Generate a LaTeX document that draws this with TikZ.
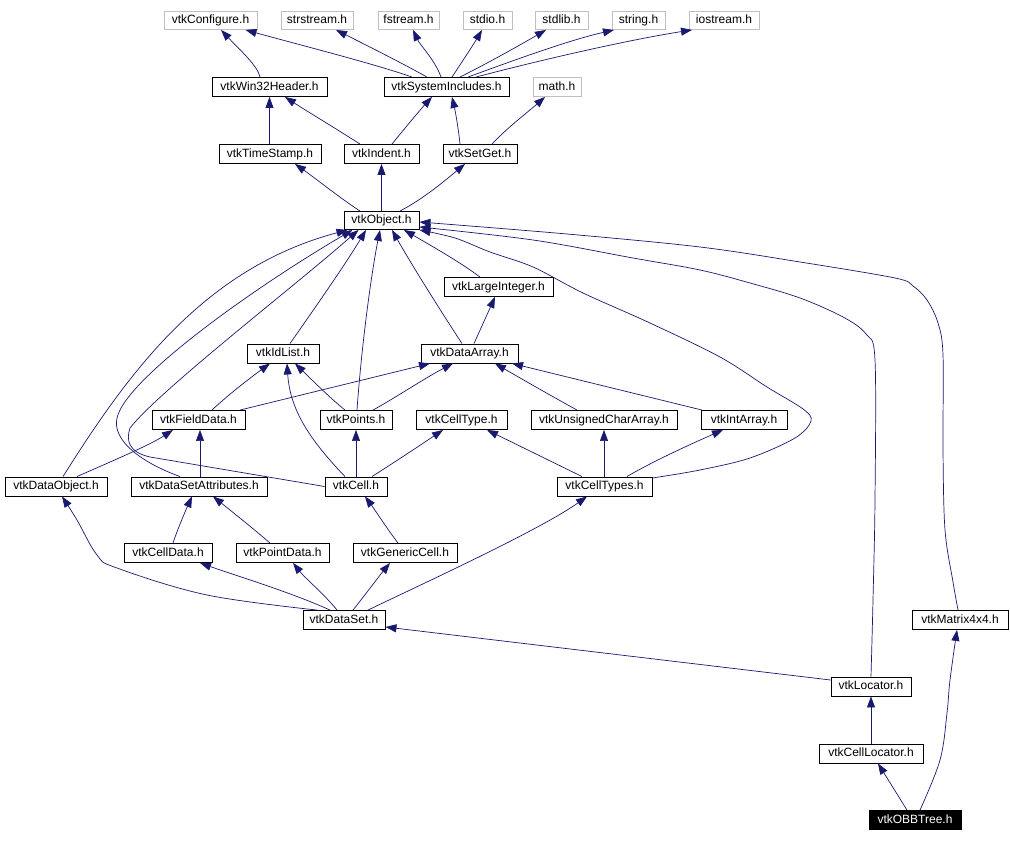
\documentclass[tikz,border=0pt]{standalone}
\usepackage{fontspec}
\setmainfont{Liberation Sans}
\usetikzlibrary{arrows.meta}
\definecolor{edgeblue}{RGB}{25,25,112}
\definecolor{sysgray}{RGB}{191,191,191}
\begin{document}
\begin{tikzpicture}[x=1pt,y=-1pt,
  hdr/.style={draw=black, line width=0.9pt, fill=white, inner sep=0pt, font=\fontsize{12}{14}\selectfont, text height=8.8pt, text depth=2.6pt, minimum height=19pt},
  sys/.style={hdr, draw=sysgray},
  cur/.style={hdr, fill=black, text=white},
  edge/.style={draw=edgeblue, line width=0.7pt, -{Triangle[length=11pt,width=8pt]}}]
\fill[white] (0,0) rectangle (1010,842);
\useasboundingbox (0,0) rectangle (1010,842);
% row 1
\node[sys, minimum width=93pt, minimum height=18pt] (configure) at (210.5,20.5) {vtkConfigure.h};
\node[sys, minimum width=72pt, minimum height=18pt] (strstream) at (317,20.5) {strstream.h};
\node[sys, minimum width=61pt, minimum height=18pt] (fstream) at (408.5,20.5) {fstream.h};
\node[sys, minimum width=49pt, minimum height=18pt] (stdio) at (487.5,20.5) {stdio.h};
\node[sys, minimum width=53pt, minimum height=18pt] (stdlib) at (561.5,20.5) {stdlib.h};
\node[sys, minimum width=53pt, minimum height=18pt] (string) at (638.5,20.5) {string.h};
\node[sys, minimum width=70pt, minimum height=18pt] (iostream) at (724,20.5) {iostream.h};
% row 2
\node[hdr, minimum width=115pt] (win32) at (269.5,87) {vtkWin32Header.h};
\node[hdr, minimum width=125pt] (sysinc) at (446.5,87) {vtkSystemIncludes.h};
\node[sys, minimum width=48pt] (math) at (557,87) {math.h};
% row 3
\node[hdr, minimum width=102pt] (timestamp) at (270,154) {vtkTimeStamp.h};
\node[hdr, minimum width=75pt] (indent) at (381.5,154) {vtkIndent.h};
\node[hdr, minimum width=74pt] (setget) at (480,154) {vtkSetGet.h};
% row 4
\node[hdr, minimum width=75pt, minimum height=18pt] (object) at (381.5,220.5) {vtkObject.h};
% row 5
\node[hdr, minimum width=109pt] (largeint) at (498.5,287) {vtkLargeInteger.h};
% row 6
\node[hdr, minimum width=72pt] (idlist) at (283,353.5) {vtkIdList.h};
\node[hdr, minimum width=97pt] (dataarray) at (469.5,353.5) {vtkDataArray.h};
% row 7
\node[hdr, minimum width=93pt] (fielddata) at (198.5,420) {vtkFieldData.h};
\node[hdr, minimum width=72pt] (points) at (356,420) {vtkPoints.h};
\node[hdr, minimum width=91pt] (celltype) at (461.5,420) {vtkCellType.h};
\node[hdr, minimum width=146pt] (uchar) at (604,420) {vtkUnsignedCharArray.h};
\node[hdr, minimum width=86pt] (intarray) at (744,420) {vtkIntArray.h};
% row 8
\node[hdr, minimum width=102pt] (dataobject) at (56,486.5) {vtkDataObject.h};
\node[hdr, minimum width=136pt] (dsattr) at (199,486.5) {vtkDataSetAttributes.h};
\node[hdr, minimum width=62pt] (cell) at (356,486.5) {vtkCell.h};
\node[hdr, minimum width=95pt] (celltypes) at (604.5,486.5) {vtkCellTypes.h};
% row 9
\node[hdr, minimum width=88pt] (celldata) at (168,553) {vtkCellData.h};
\node[hdr, minimum width=93pt] (pointdata) at (282.5,553) {vtkPointData.h};
\node[hdr, minimum width=104pt] (genericcell) at (405,553) {vtkGenericCell.h};
% row 10
\node[hdr, minimum width=82pt] (dataset) at (344,620) {vtkDataSet.h};
\node[hdr, minimum width=96pt] (matrix) at (960,620) {vtkMatrix4x4.h};
% rows 11-13
\node[hdr, minimum width=80pt] (locator) at (871,686.5) {vtkLocator.h};
\node[hdr, minimum width=104pt] (celllocator) at (871,753.5) {vtkCellLocator.h};
\node[cur, minimum width=92pt] (obbtree) at (915,820) {vtkOBBTree.h};

% --- edges: top ---
\draw[edge] ([xshift=-9.5pt]win32.north) .. controls (258,66) and (238,48) .. ([xshift=10.5pt]configure.south);
\draw[edge] ([xshift=-34.5pt]sysinc.north) .. controls (375,64) and (300,45) .. ([xshift=35pt]configure.south);
\draw[edge] ([xshift=-19.5pt]sysinc.north) .. controls (400,62) and (360,42) .. ([xshift=19pt]strstream.south);
\draw[edge] ([xshift=-5.5pt]sysinc.north) .. controls (435,60) and (420,45) .. ([xshift=4.5pt]fstream.south);
\draw[edge] ([xshift=5.5pt]sysinc.north) .. controls (462,62) and (475,42) .. ([xshift=-5.5pt]stdio.south);
\draw[edge] ([xshift=13.5pt]sysinc.north) .. controls (490,62) and (520,45) .. ([xshift=-15.5pt]stdlib.south);
\draw[edge] ([xshift=21.5pt]sysinc.north) .. controls (520,58) and (570,40) .. ([xshift=-24.5pt]string.south);
\draw[edge] ([xshift=29.5pt]sysinc.north) .. controls (560,55) and (640,38) .. ([xshift=-32pt]iostream.south);
\draw[edge] ([xshift=-0.5pt]timestamp.north) -- (win32.south);
\draw[edge] ([xshift=-21.5pt]indent.north) .. controls (335,128) and (305,110) .. ([xshift=15.5pt]win32.south);
\draw[edge] ([xshift=10.5pt]indent.north) .. controls (405,128) and (420,110) .. ([xshift=-14.5pt]sysinc.south);
\draw[edge] ([xshift=-20pt]setget.north) .. controls (458,125) and (455,110) .. ([xshift=5.5pt]sysinc.south);
\draw[edge] ([xshift=12pt]setget.north) .. controls (508,127) and (528,112) .. ([xshift=-12pt]math.south);
\draw[edge] ([xshift=-21.5pt]object.north) .. controls (340,198) and (315,178) .. ([xshift=25pt]timestamp.south);
\draw[edge] (object.north) -- (indent.south);
\draw[edge] ([xshift=18.5pt]object.north) .. controls (425,198) and (448,178) .. ([xshift=-15pt]setget.south);

% --- edges into vtkObject ---
\draw[edge] ([xshift=-18.5pt]largeint.north) .. controls (460,262) and (430,245) .. ([xshift=22.5pt]object.south);
\draw[edge] ([xshift=-7.5pt]dataarray.north) .. controls (440,310) and (410,262) .. ([xshift=10.5pt]object.south);
\draw[edge] ([xshift=7pt]idlist.north) .. controls (310,315) and (345,265) .. ([xshift=-15.5pt]object.south);
\draw[edge] ([xshift=1pt]points.north) .. controls (362,340) and (372,270) .. ([xshift=-1.5pt]object.south);
\draw[edge] ([xshift=7pt]dataobject.north) .. controls (130,370) and (205,268) .. ([xshift=-34pt]object.south);
\draw[edge] ([xshift=-19pt]dsattr.north) .. controls (140,462) and (112,440) .. (117,418) .. controls (125,380) and (250,290) .. ([xshift=-29pt]object.south);
\draw[edge] (cell.west) -- (150,457) .. controls (128,452) and (126,440) .. (130,428) .. controls (160,390) and (290,290) .. ([xshift=-23pt]object.south);
\draw[edge] plot[smooth,tension=0.55] coordinates {([yshift=8.5pt]celltypes.east) (700,470) (750,458) (795,438) (811,421) (803,409) (767,387) (720,357) (650,323) (583,293) (533,267) (490,252) (455,238) (object.south east)};
\draw[edge] plot[smooth,tension=0.55] coordinates {(locator.north) (873,600) (875,500) (875,360) (866,334) (843,317) (800,298) (750,283) (700,270) (633,258) (533,240) ([yshift=-6.5pt]object.east)};
\draw[edge] plot[smooth,tension=0.55] coordinates {([xshift=-2pt]matrix.north) (953,582) (945,530) (943,450) (943,355) (938,323) (927,300) (913,286) (895,278) (800,262) (700,247) (567,234) ([yshift=-1.5pt]object.east)};

% --- middle ---
\draw[edge] ([xshift=4.5pt]dataarray.north) -- ([xshift=-3.5pt]largeint.south);
\draw[edge] ([xshift=13.5pt]fielddata.north) .. controls (228,395) and (250,378) .. ([xshift=-13pt]idlist.south);
\draw[edge] ([xshift=41.5pt]fielddata.north) -- ([xshift=-39.5pt]dataarray.south);
\draw[edge] ([xshift=-11pt]points.north) .. controls (330,398) and (310,378) .. ([xshift=12pt]idlist.south);
\draw[edge] ([xshift=17pt]points.north) .. controls (395,398) and (425,378) .. ([xshift=-16.5pt]dataarray.south);
\draw[edge] ([xshift=-11pt]cell.north) .. controls (310,440) and (290,410) .. ([xshift=4pt]idlist.south);
\draw[edge] (cell.north) -- (points.south);
\draw[edge] ([xshift=16pt]cell.north) .. controls (395,462) and (425,442) .. ([xshift=-18.5pt]celltype.south);
\draw[edge] ([xshift=-22.5pt]celltypes.north) -- ([xshift=25.5pt]celltype.south);
\draw[edge] ([xshift=-0.5pt]celltypes.north) -- (uchar.south);
\draw[edge] ([xshift=22.5pt]celltypes.north) .. controls (655,460) and (700,440) .. ([xshift=-21pt]intarray.south);
\draw[edge] ([xshift=-27pt]uchar.north) .. controls (555,398) and (520,378) .. ([xshift=25.5pt]dataarray.south);
\draw[edge] ([xshift=-42pt]intarray.north) -- ([xshift=42.5pt]dataarray.south);
\draw[edge] ([xshift=21pt]dataobject.north) .. controls (110,462) and (150,445) .. ([xshift=-25.5pt]fielddata.south);
\draw[edge] ([xshift=1pt]dsattr.north) -- ([xshift=1.5pt]fielddata.south);

% --- lower ---
\draw[edge] ([xshift=5pt]celldata.north) .. controls (178,528) and (185,512) .. ([xshift=-7pt]dsattr.south);
\draw[edge] ([xshift=-12.5pt]pointdata.north) .. controls (255,530) and (230,510) .. ([xshift=14pt]dsattr.south);
\draw[edge] ([xshift=-7pt]genericcell.north) .. controls (388,530) and (375,510) .. ([xshift=9pt]cell.south);
\draw[edge] plot[smooth,tension=0.6] coordinates {([xshift=-27pt]dataset.north) (207,595) (117,568) (97,555) (77,520) ([xshift=6pt]dataobject.south)};
\draw[edge] ([xshift=-14pt]dataset.north) .. controls (290,592) and (240,577) .. ([xshift=32pt]celldata.south);
\draw[edge] ([xshift=-7pt]dataset.north) .. controls (325,595) and (305,578) .. ([xshift=10.5pt]pointdata.south);
\draw[edge] ([xshift=9pt]dataset.north) .. controls (365,595) and (380,575) .. ([xshift=-15pt]genericcell.south);
\draw[edge] ([xshift=24pt]dataset.north) .. controls (420,585) and (540,530) .. ([xshift=-17.5pt]celltypes.south);
\draw[edge] ([yshift=6.5pt]locator.west) -- ([yshift=-7pt]dataset.east);
\draw[edge] (celllocator.north) -- (locator.south);
\draw[edge] ([xshift=-8pt]obbtree.north) -- ([xshift=7pt]celllocator.south);
\draw[edge] plot[smooth,tension=0.6] coordinates {([xshift=5pt]obbtree.north) (940,760) (947,713) (950,680) ([xshift=-3pt]matrix.south)};
\end{tikzpicture}
\end{document}
